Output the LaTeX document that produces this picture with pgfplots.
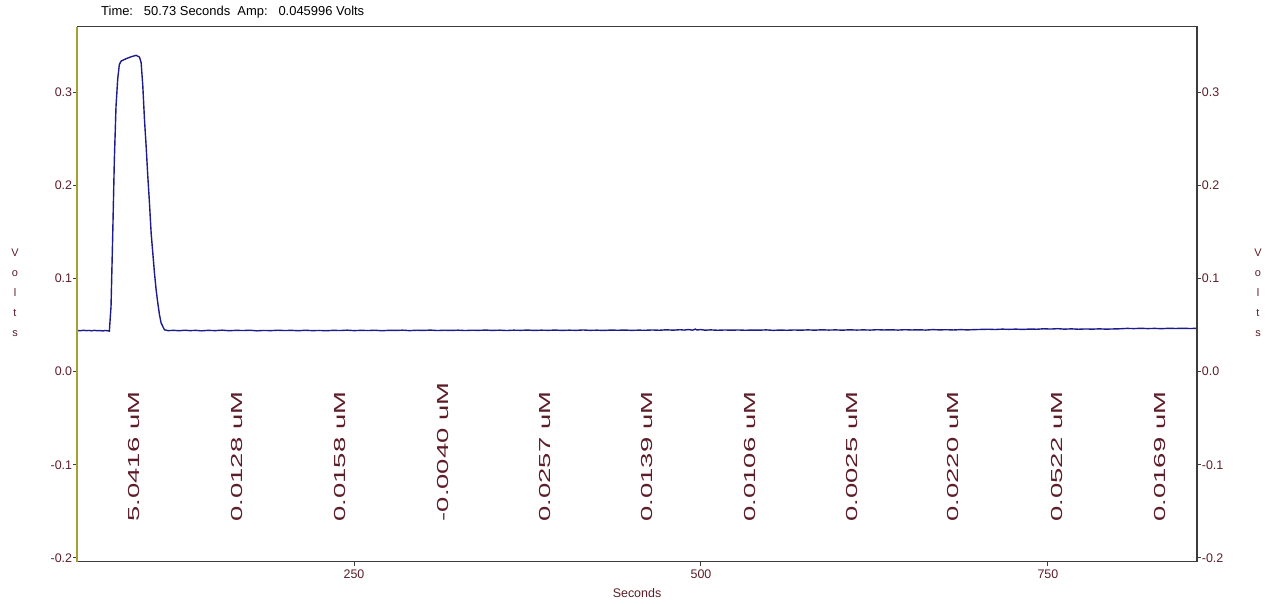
\documentclass[border=0pt]{standalone}
\usepackage{fontspec}
\setmainfont{Liberation Sans}
\usepackage{graphicx}
\usepackage{pgfplots}
\usepackage{pgfplotstable}
\pgfplotsset{compat=1.18}
\definecolor{lab}{RGB}{92,28,40}
\definecolor{trace}{RGB}{28,28,140}
\definecolor{spine}{RGB}{165,160,50}
\definecolor{frame}{RGB}{60,60,60}

\pgfplotstableread{
t v
50.6 0.0442
53 0.0440
55 0.0445
57 0.0441
59 0.0443
61 0.0439
63 0.0444
65 0.0440
67 0.0442
69 0.0438
71 0.0443
73.7 0.0436
74.9 0.070
76.1 0.1455
77.3 0.228
78.5 0.285
79.7 0.314
80.9 0.330
82.2 0.3337
85.8 0.3362
89.4 0.3383
93.0 0.3398
95.4 0.338
96.6 0.332
97.8 0.307
99.0 0.271
100.2 0.2423
101.4 0.210
102.6 0.1814
103.8 0.149
105.0 0.1276
106.2 0.106
107.4 0.088
108.6 0.0738
109.8 0.0613
111.0 0.0523
113.4 0.0450
116 0.0441
120 0.0444
124 0.0440
128 0.0445
132 0.0441
136 0.0444
140 0.0439
145 0.0444
150 0.0441
155 0.0446
160 0.0440
165 0.0444
170 0.0442
175 0.0445
180 0.0439
185 0.0443
190 0.0441
195 0.0445
200 0.0442
205 0.0444
210 0.0440
215 0.0445
220 0.0441
225 0.0443
230 0.0440
235 0.0444
240 0.0442
245 0.0446
250 0.0441
255 0.0444
260 0.0442
265 0.0445
270 0.0440
275 0.0444
280 0.0443
285 0.0446
290 0.0441
295 0.0445
300 0.0443
305 0.0447
310 0.0442
315 0.0445
320 0.0443
325 0.0446
330 0.0442
335 0.0445
340 0.0444
345 0.0447
350 0.0443
355 0.0446
360 0.0442
365 0.0446
370 0.0444
375 0.0447
380 0.0443
385 0.0446
390 0.0444
395 0.0447
400 0.0443
405 0.0446
410 0.0444
415 0.0448
420 0.0444
425 0.0446
430 0.0443
435 0.0447
440 0.0445
445 0.0447
450 0.0444
455 0.0446
460 0.0445
465 0.0448
470 0.0445
475 0.0450
480 0.0446
485 0.0451
488 0.0447
491 0.0453
494 0.0446
496 0.0458
497 0.0448
500 0.0452
503 0.0446
507 0.0449
512 0.0445
517 0.0448
522 0.0446
527 0.0448
532 0.0445
537 0.0447
542 0.0446
547 0.0449
552 0.0444
557 0.0447
562 0.0445
567 0.0448
572 0.0446
577 0.0449
582 0.0446
587 0.0450
592 0.0447
597 0.0449
602 0.0446
607 0.0450
612 0.0447
617 0.0449
622 0.0447
627 0.0451
632 0.0448
637 0.0450
642 0.0447
647 0.0451
652 0.0448
657 0.0450
662 0.0447
667 0.0452
672 0.0449
677 0.0451
682 0.0448
687 0.0452
692 0.0449
697 0.0452
702 0.0454
707 0.0456
712 0.0453
717 0.0457
722 0.0455
727 0.0457
732 0.0454
737 0.0458
742 0.0456
747 0.0461
752 0.0458
757 0.0462
762 0.0457
767 0.0460
772 0.0456
777 0.0459
782 0.0457
787 0.0460
792 0.0457
797 0.0459
802 0.0461
807 0.0465
812 0.0463
817 0.0466
822 0.0463
827 0.0465
832 0.0462
837 0.0466
842 0.0464
847 0.0466
852 0.0464
857.2 0.0465
}\tracedata

\newcommand{\conc}[1]{\scalebox{1.72}[1]{\fontsize{16}{18}\selectfont #1}}

\begin{document}
\begin{tikzpicture}[x=1bp,y=1bp]
\path[use as bounding box] (0,0) rectangle (1268,604);
\begin{axis}[
  at={(77.3bp,42.3bp)}, anchor=south west, scale only axis,
  width=1119.4bp, height=535bp,
  xmin=50.6, xmax=857.2, ymin=-0.2041, ymax=0.3706,
  xtick={250,500,750}, ytick={-0.2,-0.1,0,0.1,0.2,0.3},
  xtick pos=bottom, ytick pos=left,
  tick align=outside, major tick length=4bp,
  axis line style={frame, line width=1.6bp},
  tick style={frame, line width=1bp},
  ticklabel style={text=lab, font=\fontsize{12.5}{14}\selectfont},
  /pgf/number format/assume math mode=true,
  yticklabel style={/pgf/number format/fixed, /pgf/number format/fixed zerofill, /pgf/number format/precision=1, inner sep=1bp},
  xticklabel style={/pgf/number format/fixed, /pgf/number format/precision=0, /pgf/number format/1000 sep={}, inner sep=1bp, yshift=-3bp},
]
\addplot[trace, line width=1.4bp] table[x=t, y=v] {\tracedata};
\begin{scope}[every node/.style={rotate=90, anchor=west, inner sep=0pt, text=lab}]
\node at (axis cs:91.7,-0.161) {\conc{5.0416 uM}};
\node at (axis cs:165.5,-0.161) {\conc{0.0128 uM}};
\node at (axis cs:239.9,-0.161) {\conc{0.0158 uM}};
\node at (axis cs:314.4,-0.161) {\conc{-0.0040 uM}};
\node at (axis cs:387.7,-0.161) {\conc{0.0257 uM}};
\node at (axis cs:461.0,-0.161) {\conc{0.0139 uM}};
\node at (axis cs:535.4,-0.161) {\conc{0.0106 uM}};
\node at (axis cs:608.7,-0.161) {\conc{0.0025 uM}};
\node at (axis cs:681.9,-0.161) {\conc{0.0220 uM}};
\node at (axis cs:756.4,-0.161) {\conc{0.0522 uM}};
\node at (axis cs:830.9,-0.161) {\conc{0.0169 uM}};
\end{scope}
\end{axis}
\begin{axis}[
  at={(77.3bp,42.3bp)}, anchor=south west, scale only axis,
  width=1119.4bp, height=535bp,
  xmin=50.6, xmax=857.2, ymin=-0.2041, ymax=0.3706,
  axis x line=none, axis y line*=right,
  ytick={-0.2,-0.1,0,0.1,0.2,0.3},
  tick align=outside, major tick length=4bp,
  axis line style={frame, line width=1.6bp},
  tick style={frame, line width=1bp},
  ticklabel style={text=lab, font=\fontsize{12.5}{14}\selectfont},
  /pgf/number format/assume math mode=true,
  yticklabel style={/pgf/number format/fixed, /pgf/number format/fixed zerofill, /pgf/number format/precision=1, inner sep=1bp},
  clip=false,
]
\draw[spine, line width=1.8bp] (rel axis cs:0,0) -- (rel axis cs:0,1);
\end{axis}
\node[anchor=base west, inner sep=0pt, font=\fontsize{13}{15}\selectfont] at (101,588) {Time:\ \ \ 50.73 Seconds\ \ Amp:\ \ \ 0.045996 Volts};
\node[anchor=base, inner sep=0pt, text=lab, font=\fontsize{12.5}{14}\selectfont] at (637,6) {Seconds};
\node[align=center, inner sep=0pt, text=lab, font=\fontsize{11}{20}\selectfont] at (15,311) {V\\o\\l\\t\\s};
\node[align=center, inner sep=0pt, text=lab, font=\fontsize{11}{20}\selectfont] at (1258,311) {V\\o\\l\\t\\s};
\end{tikzpicture}
\end{document}
